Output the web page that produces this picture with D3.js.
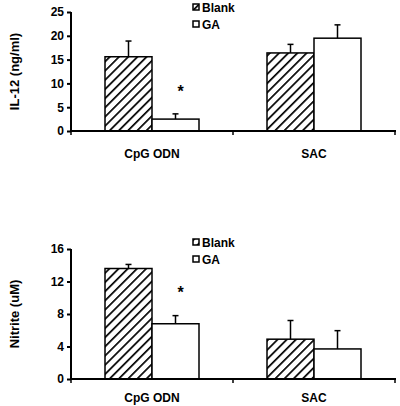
<!DOCTYPE html>
<html><head><meta charset="utf-8">
<script src="https://cdn.jsdelivr.net/npm/d3@7"></script>
<style>body{margin:0;background:#fff}svg{display:block}text{font-family:Arial,"Liberation Sans",sans-serif;font-weight:bold;fill:#000}</style>
</head><body>
<script>
const categories = ["CpG ODN", "SAC"];
const seriesNames = ["Blank", "GA"];
const il12Values = [[15.6, 2.5], [16.4, 19.5]];
const il12Errors = [[18.9, 3.6], [18.2, 22.3]];
const il12Ticks = [0, 5, 10, 15, 20, 25];
const nitriteValues = [[13.6, 6.8], [4.9, 3.7]];
const nitriteErrors = [[14.1, 7.8], [7.2, 5.95]];
const nitriteTicks = [0, 4, 8, 12, 16];
const il12Label = "IL-12 (ng/ml)";
const nitriteLabel = "Nitrite (uM)";
const starCategory = "CpG ODN";

const svg = d3.select("body").append("svg").attr("width", 400).attr("height", 406);
const defs = svg.append("defs");
const pat = defs.append("pattern").attr("id", "hatch").attr("patternUnits", "userSpaceOnUse")
  .attr("width", 6.5).attr("height", 6.5).attr("patternTransform", "rotate(45)");
pat.append("rect").attr("width", 6.5).attr("height", 6.5).attr("fill", "#fff");
pat.append("line").attr("x1", 0).attr("y1", 0).attr("x2", 0).attr("y2", 6.5).attr("stroke", "#000").attr("stroke-width", 3.4);

function panel(cfg) {
  const g = svg.append("g");
  const x = d3.scaleBand().domain(categories).range([71, 395]);
  const y = d3.scaleLinear().domain([0, cfg.max]).range([cfg.y0, cfg.y1]);
  const bw = 47;
  categories.forEach((c, i) => {
    const cx = x(c) + x.bandwidth() / 2;
    seriesNames.forEach((s, j) => {
      const bx = j === 0 ? cx - bw : cx;
      const v = cfg.values[i][j], e = cfg.errors[i][j];
      const mx = bx + bw / 2;
      g.append("line").attr("x1", mx).attr("x2", mx).attr("y1", y(v)).attr("y2", y(e)).attr("stroke", "#000").attr("stroke-width", 1.5);
      g.append("line").attr("x1", mx - 3).attr("x2", mx + 3).attr("y1", y(e)).attr("y2", y(e)).attr("stroke", "#000").attr("stroke-width", 1.5);
      g.append("rect").attr("x", bx).attr("y", y(v)).attr("width", bw).attr("height", y(0) - y(v))
        .attr("fill", j === 0 ? "url(#hatch)" : "#fff").attr("stroke", "#000").attr("stroke-width", 1.5);
    });
    g.append("text").attr("x", cx).attr("y", cfg.catY).attr("text-anchor", "middle").attr("font-size", 12).text(c);
  });
  const sc = x(starCategory) + x.bandwidth() / 2;
  g.append("text").attr("x", sc + bw / 2 + 5).attr("y", cfg.starY).attr("text-anchor", "middle").attr("font-size", 16).text("*");
  const ya = g.append("g").attr("transform", "translate(71,0)")
    .call(d3.axisLeft(y).tickValues(cfg.ticks).tickSize(4).tickPadding(3).tickFormat(d3.format("d")));
  ya.select(".domain").attr("stroke-width", 2).attr("d", `M0,${cfg.y0}V${cfg.y1}`);
  ya.selectAll(".tick line").attr("stroke-width", 2);
  ya.selectAll("text").attr("font-size", 12).style("font-family", "Arial, 'Liberation Sans', sans-serif").style("font-weight", "bold");
  const xt = [71, 233, 395];
  g.append("line").attr("x1", 70).attr("x2", 396).attr("y1", cfg.y0).attr("y2", cfg.y0).attr("stroke", "#000").attr("stroke-width", 2);
  xt.forEach(t => g.append("line").attr("x1", t).attr("x2", t).attr("y1", cfg.y0).attr("y2", cfg.y0 + 4).attr("stroke", "#000").attr("stroke-width", 1.5));
  g.append("text").attr("transform", `translate(19,${(cfg.y0 + cfg.y1) / 2}) rotate(-90)`).attr("text-anchor", "middle").attr("font-size", 13).text(cfg.label);
  seriesNames.forEach((s, j) => {
    const ly = cfg.legY + j * 17;
    g.append("rect").attr("x", 193).attr("y", ly - 4).attr("width", 6).attr("height", 6)
      .attr("fill", j === 0 ? "url(#hatch)" : "#fff").attr("stroke", "#000").attr("stroke-width", 1.5);
    g.append("text").attr("x", 202).attr("y", ly + 4).attr("font-size", 12).text(s);
  });
}

panel({values: il12Values, errors: il12Errors, ticks: il12Ticks, max: 25, y0: 131, y1: 12, catY: 158, starY: 97, label: il12Label, legY: 8});
panel({values: nitriteValues, errors: nitriteErrors, ticks: nitriteTicks, max: 16, y0: 379, y1: 249, catY: 402, starY: 298, label: nitriteLabel, legY: 243});
</script>
</body></html>
